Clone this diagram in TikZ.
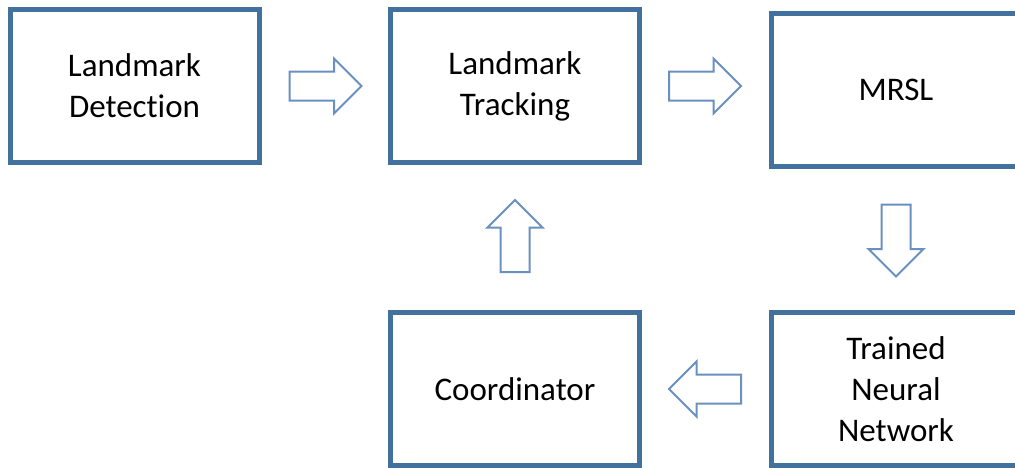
\documentclass[tikz,border=0pt]{standalone}
\usepackage{fontspec}
\setmainfont[Ligatures=NoCommon]{Carlito}
\usetikzlibrary{positioning, shapes.arrows, calc}
\definecolor{boxblue}{HTML}{41719C}
\definecolor{arrowblue}{HTML}{6990C0}

\begin{document}
\begin{tikzpicture}[
    x=1pt, y=-1pt,
    stage box/.style={draw=boxblue, line width=5pt, fill=white, inner sep=0pt,
                      minimum width=249pt, minimum height=153pt, align=center,
                      font=\fontsize{33}{41}\selectfont},
    block arrow/.style={single arrow, draw=arrowblue, line width=2pt, fill=white,
                        minimum height=72pt, inner xsep=0pt, inner ysep=13.5pt,
                        single arrow head extend=13pt, single arrow tip angle=90,
                        anchor=tail},
]
\useasboundingbox (0,0) rectangle (1015,467);
\clip (0,0) rectangle (1015,467);

% Stages
\node[stage box] (LD)   at (134.5, 86)  {Landmark\\Detection};
\node[stage box] (LT)   at (515, 86)    {Landmark\\Tracking};
\node[stage box] (MRSL) at (896, 89.5)  {MRSL};
\node[stage box] (TNN)  at (896, 389)   {Trained\\Neural\\Network};
\node[stage box] (CO)   at (515, 389)   {Coordinator};

% Block arrows between stages
\node[block arrow]             (A1) at ([xshift=27pt]LD.east) {};
\node[block arrow]             (A2) at ([xshift=26pt]LT.east) {};
\node[block arrow, rotate=-90] (A3) at ([yshift=-35pt]MRSL.south) {};
\node[block arrow, rotate=180] (A4) at ([xshift=-27pt]TNN.west) {};
\node[block arrow, rotate=90]  (A5) at ([yshift=37pt]CO.north) {};

\end{tikzpicture}
\end{document}
